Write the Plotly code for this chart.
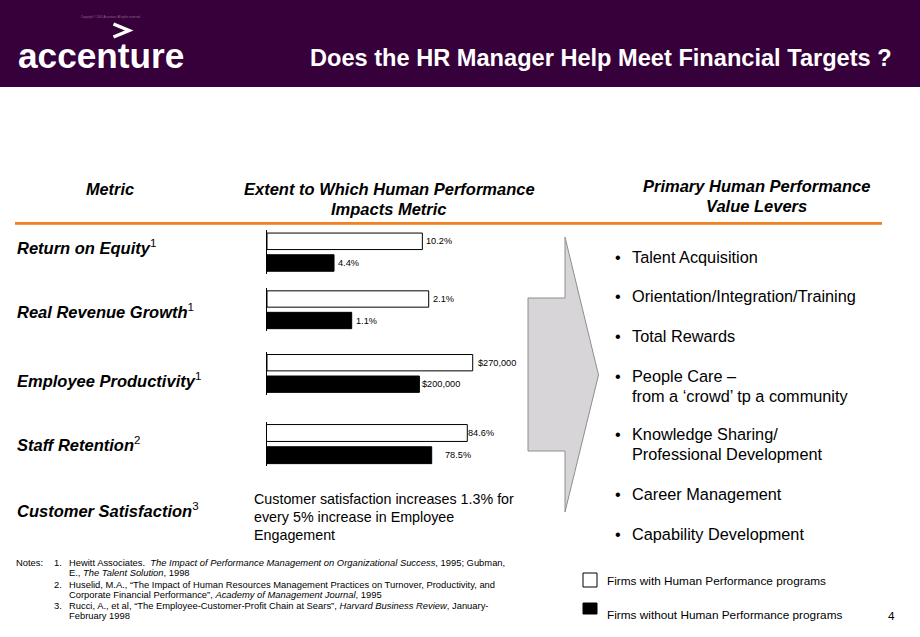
import plotly.graph_objects as go

W, H = 920, 637
FONT = "Liberation Sans, Arial, sans-serif"

# ---------------- data ----------------
metrics = ["Return on Equity", "Real Revenue Growth", "Employee Productivity",
           "Staff Retention", "Customer Satisfaction"]
metric_notes = ["1", "1", "1", "2", "3"]
series_names = ["Firms with Human Performance programs",
                "Firms without Human Performance programs"]
with_hp = [10.2, 2.1, 270000, 84.6]
without_hp = [4.4, 1.1, 200000, 78.5]
value_formats = ["{:.1f}%", "{:.1f}%", "${:,.0f}", "{:.1f}%"]
customer_note = ["Customer satisfaction increases 1.3% for",
                 "every 5% increase in Employee", "Engagement"]
levers = [["Talent Acquisition"], ["Orientation/Integration/Training"], ["Total Rewards"],
          ["People Care –", "from a ‘crowd’ tp a community"],
          ["Knowledge Sharing/", "Professional Development"],
          ["Career Management"], ["Capability Development"]]
notes = [
    ("1.", ["Hewitt Associates.  <i>The Impact of Performance Management on Organizational Success</i>, 1995; Gubman,",
            "E., <i>The Talent Solution</i>, 1998"]),
    ("2.", ["Huselid, M.A., “The Impact of Human Resources Management Practices on Turnover, Productivity, and",
            "Corporate Financial Performance”, <i>Academy of Management Journal</i>, 1995"]),
    ("3.", ["Rucci, A., et al, “The Employee-Customer-Profit Chain at Sears”, <i>Harvard Business Review</i>, January-",
            "February 1998"]),
]

# ---------------- layout parameters (pixels) ----------------
bar_x0, bar_x1 = 267, 520
pair_centers = [(241.3, 263.0), (299.0, 320.5), (362.7, 384.2), (433.0, 455.2)]
x_ranges = [[0, 16.61], [0, 3.286], [0, 332070], [50.28, 93.63]]
label_gaps = [(3, 3), (3, 3), (4, 2), (0, 12)]
metric_y = [247, 311, 380, 444, 509.7]
lever_y = [[257], [296.3], [336], [376, 395.5], [434, 454.5], [494], [534]]


def X(px):
    return px / W


def Y(py):
    return 1 - py / H


fig = go.Figure()
annotations = []
shapes = []


def text(px, py, s, size, color="#000", anchor="left", family=FONT):
    annotations.append(dict(x=X(px), y=Y(py), xref="paper", yref="paper", text=s,
                            showarrow=False, xanchor=anchor, yanchor="middle",
                            borderpad=0,
                            font=dict(size=size, color=color, family=family)))


# ---------------- bars ----------------
layout_axes = {}
for i in range(4):
    n = "" if i == 0 else str(i + 1)
    cw, cb = pair_centers[i]
    u = cb - cw
    top, bottom = cw - u / 2, cb + u / 2
    for name, vals, fill in [(series_names[0], with_hp, "white"), (series_names[1], without_hp, "black")]:
        fig.add_trace(go.Bar(
            x=[vals[i]], y=[name], orientation="h", name=name,
            marker=dict(color=fill, line=dict(color="#000", width=1)),
            xaxis="x" + n, yaxis="y" + n, showlegend=False, hoverinfo="skip"))
    layout_axes["xaxis" + n] = dict(domain=[X(bar_x0), X(bar_x1)], range=x_ranges[i],
                                    anchor="y" + n, visible=False, fixedrange=True)
    layout_axes["yaxis" + n] = dict(domain=[Y(bottom), Y(top)], anchor="x" + n, type="category",
                                    categoryorder="array", categoryarray=series_names,
                                    range=[1.5, -0.5], showline=True, linecolor="#000",
                                    linewidth=1, showticklabels=False, showgrid=False,
                                    zeroline=False, ticks="", fixedrange=True)
    for name, vals, gap in [(series_names[0], with_hp, label_gaps[i][0]),
                            (series_names[1], without_hp, label_gaps[i][1])]:
        annotations.append(dict(x=vals[i], y=name, xref="x" + n, yref="y" + n,
                                text=value_formats[i].format(vals[i]), showarrow=False,
                                xanchor="left", yanchor="middle", xshift=gap,
                                borderpad=0,
                                font=dict(size=9.2, color="#000", family=FONT)))

# ---------------- header band ----------------
shapes.append(dict(type="rect", xref="paper", yref="paper", x0=0, x1=1, y0=Y(87), y1=1,
                   fillcolor="#36003a", line=dict(width=0), layer="below"))
text(80, 17, "Copyright © 2001 Accenture. All rights reserved.", 2.8, color="#9a6a90")
text(17, 55.5, "<b>accenture</b>", 35.2, color="white")
shapes.append(dict(type="path", xref="paper", yref="paper",
                   path=f"M{X(113.5)},{Y(24)} L{X(129)},{Y(30.5)} L{X(113.5)},{Y(37)}",
                   line=dict(color="white", width=3.5)))
text(893, 58, "<b>Does the HR Manager Help Meet Financial Targets ?</b>", 23.6,
     color="white", anchor="right")

# ---------------- column headers ----------------
text(110, 189, "<b><i>Metric</i></b>", 16.3, anchor="center")
text(389, 189, "<b><i>Extent to Which Human Performance</i></b>", 16.5, anchor="center")
text(389, 209, "<b><i>Impacts Metric</i></b>", 16.5, anchor="center")
text(756, 186, "<b><i>Primary Human Performance</i></b>", 16.5, anchor="center")
text(756, 206, "<b><i>Value Levers</i></b>", 16.5, anchor="center")
shapes.append(dict(type="line", xref="paper", yref="paper", x0=X(15), x1=X(882),
                   y0=Y(223.5), y1=Y(223.5), line=dict(color="#f39a4a", width=3)))
shapes.append(dict(type="line", xref="paper", yref="paper", x0=X(15), x1=X(882),
                   y0=Y(223), y1=Y(223), line=dict(color="#ee7a12", width=1.5)))

# ---------------- metric labels ----------------
for m, sup, yy in zip(metrics, metric_notes, metric_y):
    text(16, yy, f"<b><i>{m}</i></b><sup>{sup}</sup>", 16.5)

# ---------------- customer satisfaction note ----------------
for line, yy in zip(customer_note, [498.5, 517.3, 535.3]):
    text(253, yy, line, 14.3)

# ---------------- arrow ----------------
pts = [(528, 298), (565, 298), (565, 237), (598.5, 375), (565, 512), (565, 451), (528, 451)]
path = "M" + " L".join(f"{X(a)},{Y(b)}" for a, b in pts) + " Z"
shapes.append(dict(type="path", xref="paper", yref="paper", path=path,
                   fillcolor="#d7d5d7", line=dict(color="#8e8e8e", width=1)))

# ---------------- levers ----------------
for item, ys in zip(levers, lever_y):
    text(614, ys[0], "•", 16.3)
    for line, yy in zip(item, ys):
        text(631, yy, line, 16.3)

# ---------------- notes ----------------
note_rows = [[562.3, 572.3], [584, 594], [605.7, 615]]
text(15, 562.3, "Notes:", 9.4)
for (num, lines), ys in zip(notes, note_rows):
    text(53, ys[0], num, 9.4)
    for line, yy in zip(lines, ys):
        text(68, yy, line, 9.4)

# ---------------- legend ----------------
shapes.append(dict(type="rect", xref="paper", yref="paper", x0=X(583), x1=X(597),
                   y0=Y(587), y1=Y(573), fillcolor="white", line=dict(color="#000", width=1)))
shapes.append(dict(type="rect", xref="paper", yref="paper", x0=X(583), x1=X(597),
                   y0=Y(614), y1=Y(603), fillcolor="black", line=dict(color="#000", width=1)))
text(606, 581.3, series_names[0], 11.8)
text(606, 615, series_names[1], 11.8)
text(887, 615.5, "4", 11.8)

fig.update_layout(
    width=W, height=H, autosize=False, margin=dict(l=0, r=0, t=0, b=0),
    paper_bgcolor="white", plot_bgcolor="rgba(0,0,0,0)",
    barmode="overlay", bargap=0.24, showlegend=False,
    font=dict(family=FONT, color="#000"),
    annotations=annotations, shapes=shapes, **layout_axes)

post = ("document.documentElement.style.margin='0';document.body.style.margin='0';"
        "document.body.style.padding='0';document.body.style.overflow='hidden';"
        "var gd=document.getElementById('{plot_id}');"
        "Plotly.relayout(gd,{width:920,height:637});")
fig.write_html("out.html", config={"displayModeBar": False, "responsive": False},
               post_script=post)
